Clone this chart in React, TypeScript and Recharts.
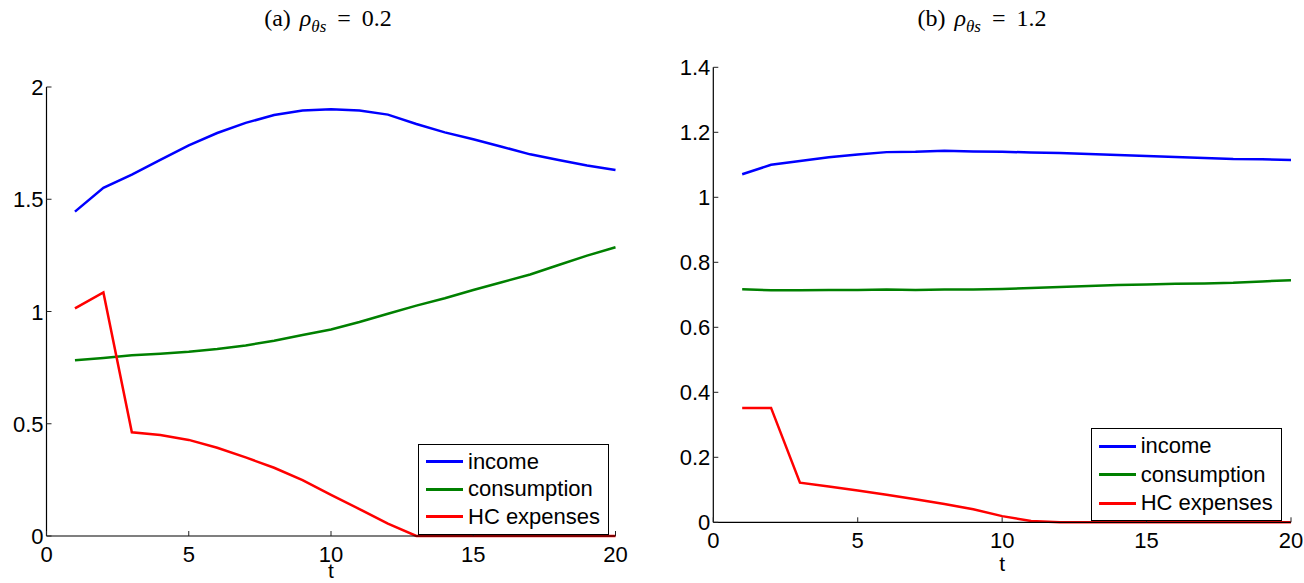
import React from 'react'
import { LineChart, Line, XAxis, YAxis, Legend } from 'recharts'

const tValues = [1, 2, 3, 4, 5, 6, 7, 8, 9, 10, 11, 12, 13, 14, 15, 16, 17, 18, 19, 20]

// panel (a)
const incomeA = [1.445, 1.551, 1.61, 1.675, 1.74, 1.795, 1.84, 1.875, 1.895, 1.901, 1.895, 1.877, 1.835, 1.798, 1.767, 1.734, 1.7, 1.675, 1.65, 1.63]
const consumptionA = [0.783, 0.793, 0.805, 0.812, 0.821, 0.833, 0.849, 0.87, 0.895, 0.92, 0.953, 0.99, 1.026, 1.059, 1.096, 1.13, 1.165, 1.207, 1.249, 1.286]
const hcA = [1.014, 1.085, 0.462, 0.45, 0.428, 0.393, 0.35, 0.304, 0.249, 0.183, 0.12, 0.055, 0, 0, 0, 0, 0, 0, 0, 0]

// panel (b)
const incomeB = [1.071, 1.1, 1.112, 1.123, 1.132, 1.139, 1.14, 1.143, 1.141, 1.14, 1.138, 1.136, 1.133, 1.13, 1.127, 1.124, 1.121, 1.118, 1.117, 1.115]
const consumptionB = [0.717, 0.714, 0.714, 0.715, 0.715, 0.716, 0.715, 0.716, 0.716, 0.718, 0.721, 0.724, 0.727, 0.73, 0.732, 0.734, 0.735, 0.737, 0.741, 0.745]
const hcB = [0.352, 0.352, 0.122, 0.11, 0.098, 0.085, 0.071, 0.056, 0.04, 0.019, 0.004, 0, 0, 0, 0, 0, 0, 0, 0, 0]

const seriesNames = ['income', 'consumption', 'HC expenses']
const xTicks = [0, 5, 10, 15, 20]
const yTicksA = [0, 0.5, 1, 1.5, 2]
const yTicksB = [0, 0.2, 0.4, 0.6, 0.8, 1, 1.2, 1.4]

const SANS = '"Liberation Sans", Arial, Helvetica, sans-serif'
const SERIF = '"Liberation Serif", "DejaVu Serif", serif'
const TICK = 5
const FS = 22

const BottomTick = (props: any) => {
    const { x, y, payload } = props
    return (
        <g>
            <line x1={x} y1={y} x2={x} y2={y - TICK} stroke="#222" />
            <text x={x} y={y + 26} textAnchor="middle" fontSize={FS} fontFamily={SANS} fill="#000">{payload.value}</text>
        </g>
    )
}
const TopTick = (props: any) => {
    const { x, y } = props
    return <line x1={x} y1={y} x2={x} y2={y + TICK} stroke="#222" />
}
const LeftTick = (props: any) => {
    const { x, y, payload } = props
    return (
        <g>
            <line x1={x} y1={y} x2={x + TICK} y2={y} stroke="#222" />
            <text x={x - 3} y={y + 8} textAnchor="end" fontSize={FS} fontFamily={SANS} fill="#000">{payload.value}</text>
        </g>
    )
}
const RightTick = (props: any) => {
    const { x, y } = props
    return <line x1={x} y1={y} x2={x - TICK} y2={y} stroke="#222" />
}

const LegendBox = ({ payload, rowHeight }: any) => {
    // keep the plotting order, not recharts' alphabetical one
    const items = [...(payload || [])].sort((a: any, b: any) => seriesNames.indexOf(a.value) - seriesNames.indexOf(b.value))
    return (
        <div style={{ border: '1px solid #000', background: '#fff', padding: '3px 8px 3px 7px', fontFamily: SANS, fontSize: FS, color: '#000', boxSizing: 'border-box' }}>
            {items.map((p: any) => (
                <div key={p.value} style={{ display: 'flex', alignItems: 'center', height: rowHeight, whiteSpace: 'nowrap' }}>
                    <span style={{ display: 'inline-block', width: 37, height: 3, background: p.color, marginRight: 5 }} />
                    {p.value}
                </div>
            ))}
        </div>
    )
}

function Panel({ income, consumption, hc, yMax, yTicks, width, margin, yAxisWidth, xAxisHeight, labelOffset, legendLeft, legendTop, rowHeight }: any) {
    const data = tValues.map((t, i) => ({ t, income: income[i], consumption: consumption[i], hc: hc[i] }))
    return (
        <LineChart width={width} height={583} data={data} margin={margin}>
            <XAxis dataKey="t" type="number" domain={[0, 20]} ticks={xTicks} interval={0}
                tickLine={false} tickSize={0} tickMargin={0} tick={BottomTick}
                axisLine={{ stroke: '#000', strokeWidth: 1.2 }} height={xAxisHeight}
                label={{ value: 't', position: 'insideBottom', offset: labelOffset, fontSize: 21, fontFamily: SANS, fill: '#000' }} />
            <XAxis xAxisId="top" orientation="top" dataKey="t" type="number" domain={[0, 20]} ticks={xTicks} interval={0}
                tickLine={false} tickSize={0} tickMargin={0} tick={TopTick}
                axisLine={{ stroke: '#000', strokeWidth: 1.2 }} height={0} />
            <YAxis type="number" domain={[0, yMax]} ticks={yTicks} interval={0}
                tickLine={false} tickSize={0} tickMargin={0} tick={LeftTick}
                axisLine={{ stroke: '#000', strokeWidth: 1.2 }} width={yAxisWidth} />
            <YAxis yAxisId="right" orientation="right" type="number" domain={[0, yMax]} ticks={yTicks} interval={0}
                tickLine={false} tickSize={0} tickMargin={0} tick={RightTick}
                axisLine={{ stroke: '#000', strokeWidth: 1.2 }} width={0} />
            <Line type="linear" dataKey="income" name={seriesNames[0]} stroke="#0000ff" strokeWidth={2.5} dot={false} isAnimationActive={false} />
            <Line type="linear" dataKey="consumption" name={seriesNames[1]} stroke="#008000" strokeWidth={2.5} dot={false} isAnimationActive={false} />
            <Line type="linear" dataKey="hc" name={seriesNames[2]} stroke="#ff0000" strokeWidth={2.5} dot={false} isAnimationActive={false} />
            <Legend layout="vertical" align="center" verticalAlign="middle"
                wrapperStyle={{ left: legendLeft, top: legendTop, width: 'auto', height: 'auto' }}
                content={(props: any) => <LegendBox payload={props.payload} rowHeight={rowHeight} />} />
        </LineChart>
    )
}

const titleStyle: React.CSSProperties = { position: 'absolute', top: 6, fontFamily: SERIF, fontSize: 24, lineHeight: '24px', color: '#000', whiteSpace: 'nowrap', transform: 'translateX(-50%)' }

const Title = ({ tag, value, left }: any) => (
    <div style={{ ...titleStyle, left }}>
        ({tag})<span style={{ marginLeft: 9 }}><i>ρ</i></span>
        <sub style={{ fontSize: 17, lineHeight: 0 }}><i>θs</i></sub>
        <span style={{ margin: '0 11px' }}>=</span>{value}
    </div>
)

export default function App() {
    return (
        <div style={{ position: 'absolute', left: 0, top: 0, width: 1304, height: 583, background: '#fff', overflow: 'hidden' }}>
            <Title tag="a" value="0.2" left={328} />
            <Title tag="b" value="1.2" left={982} />
            <div style={{ position: 'absolute', left: 0, top: 0 }}>
                <Panel income={incomeA} consumption={consumptionA} hc={hcA} yMax={2} yTicks={yTicksA}
                    width={640} margin={{ top: 87, right: 24.5, bottom: 0, left: 6.5 }}
                    yAxisWidth={40} xAxisHeight={47} labelOffset={5}
                    legendLeft={418} legendTop={444} rowHeight={27.5} />
            </div>
            <div style={{ position: 'absolute', left: 650, top: 0 }}>
                <Panel income={incomeB} consumption={consumptionB} hc={hcB} yMax={1.4} yTicks={yTicksB}
                    width={654} margin={{ top: 67.3, right: 13, bottom: 10.7, left: 13.3 }}
                    yAxisWidth={50} xAxisHeight={50} labelOffset={1}
                    legendLeft={440.7} legendTop={428.3} rowHeight={28.3} />
            </div>
        </div>
    )
}
